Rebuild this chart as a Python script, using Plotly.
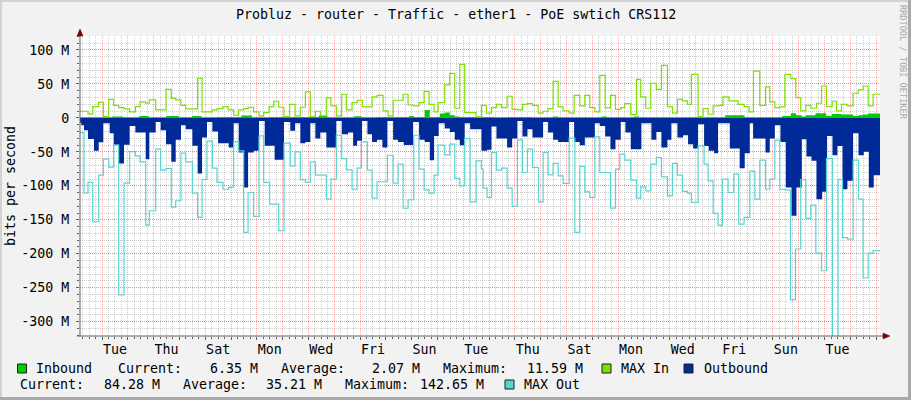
import pandas as pd
import plotly.graph_objects as go

# ---------------- data ----------------
START = pd.Timestamp("2019-09-30 03:32")
SPAN_HOURS = 744  # 31 days shown

in_hours = [0, 10, 30, 40, 55, 64, 80, 92, 104, 113, 128, 150, 160, 176, 200, 222, 230, 250, 255, 262,
            275, 300, 306, 310.4, 320.6, 325.3, 334.6, 339.2, 343.9, 348.5, 353, 375, 385, 398, 420, 440,
            445, 485, 490, 515, 520, 600, 618, 653, 661, 666, 671, 675, 684, 694, 699, 708, 719, 724, 728, 733]
in_vals = [1.0, 0.8, 2.0, 1.0, 2.9, 1.0, 2.9, 1.0, 2.9, 1.0, 1.2, 3.5, 1.0, 1.5, 1.2, 3.0, 1.0, 1.0, 2.5, 1.0,
           1.5, 1.2, 2.9, 1.2, 11.6, 1.5, 6.4, 7.8, 3.9, 2.0, 1.2, 1.5, 1.0, 1.5, 1.0, 2.0,
           1.0, 2.0, 1.0, 2.0, 1.0, 3.9, 1.0, 2.9, 6.9, 3.9, 2.0, 3.9, 6.9, 2.9, 5.9, 4.9, 2.9, 3.9, 4.9, 6.35]

maxin_hours = [0, 7.4, 11.8, 17.4, 21.7, 26.7, 31.3, 36.0, 40.9, 46.2, 51.5, 55.8, 61.1, 64.5, 70.4, 80.0,
               84.9, 89.0, 93.9, 98.3, 109.4, 113.5, 123.1,
               127.4, 133.0, 137.7, 142.9, 147.6, 152.2, 156.3, 161.5, 166.5, 170.8, 175.8, 180.1, 184.8,
               189.7, 195.0, 200.0, 204.9, 209.6, 214.2, 218.9, 223.5, 229.1, 233.4, 238.4, 243.4, 247.7,
               253.0, 257.7, 262.6, 271.6, 276.3, 281.9, 286.5, 291.2, 300.5, 305.1, 310.4, 315.3, 320.0,
               324.6, 329.3, 333.0, 339.2, 343.9, 348.5, 353.2, 357.8, 368.3, 373.3,
               378.0, 382.7, 387.3, 392.0, 397.2, 401.9, 406.8, 411.5, 416.1, 420.8, 426.1, 430.7, 435.3,
               440.0, 444.7, 449.3, 454.9, 459.5, 464.8, 469.5, 474.1, 478.8, 483.4, 488.4, 493.3, 498.0,
               502.9, 506.6, 512.2, 517.5, 521.5, 526.1, 530.8, 536.0, 540.7, 546.3, 550.9, 555.6, 560.2,
               564.9, 568.6, 574.8, 579.5, 584.1, 588.8, 593.4, 598.0, 603.6, 612.0, 617.6, 622.2, 626.3,
               632.2, 637.5, 641.5, 646.2, 650.8, 655.5, 661.0, 665.7, 670.3, 675.0, 679.6, 684.9, 689.6,
               694.2, 699.5, 703.5, 708.2, 713.4, 719.0, 723.7, 728.3, 733.0, 737.6]
maxin_vals = [9.8, 5.9, 16.7, 23.0, 2.0, 27.4, 18.6, 15.2, 13.2, 8.8, 16.7, 23.5, 21.6, 26.5, 11.8, 42.1,
              28.9, 26.5, 18.6, 13.2, 58.3, 8.8, 11.8,
              13.7, 16.7, 11.8, 3.9, 11.8, 13.7, 15.7, 8.8, 2.9, 7.8, 16.7, 24.5, 15.7,
              2.0, 20.0, 2.9, 15.7, 38.2, 2.0, 9.8, 2.9, 29.4, 17.6, 2.9, 34.8, 11.8,
              22.5, 26.0, 16.2, 30.9, 33.3, 10.3, 2.9, 26.0, 34.8, 19.0, 17.6, 22.5, 39.2,
              20.0, 8.8, 22.5, 48.5, 65.7, 14.2, 78.9, 7.8, 1.5, 18.6,
              6.9, 15.2, 20.0, 15.2, 31.9, 12.7, 11.8, 20.0, 21.0, 18.6, 6.9, 9.8, 13.7,
              53.9, 16.2, 10.3, 6.9, 33.3, 17.6, 33.3, 15.2, 8.8, 62.7, 14.7, 33.3, 12.7,
              15.2, 21.0, 4.9, 56.8, 30.9, 14.2, 51.0, 42.1, 77.4, 16.7, 6.9, 27.4, 25.0,
              20.0, 64.2, 2.0, 13.7, 5.4, 17.6, 18.6, 30.9, 25.0, 20.0, 16.7, 8.8, 69.0,
              18.6, 45.6, 23.5, 15.2, 16.2, 64.2, 57.8, 29.9, 10.3, 18.6, 14.2, 21.6, 47.0,
              16.7, 24.5, 10.3, 20.0, 17.6, 36.3, 41.2, 47.0, 17.6, 34.8]

out_hours = [0, 1.2, 3.7, 7.4, 13.0, 17.4, 21.7, 27.6, 31.3, 36.0, 40.9, 46.2, 51.5, 61.1, 64.5, 70.4,
             75.0, 80.0, 84.9, 89.0, 93.9, 98.3, 104.5, 109.4, 113.5, 118.1, 123.1,
             128.4, 138.3, 142.9, 147.6, 152.2, 156.3, 161.5, 166.5, 171.8, 181.0, 189.7, 195.6, 200.0,
             204.9, 209.6, 214.2, 218.9, 223.5, 229.1, 238.4, 243.4,
             249.3, 254.0, 257.7, 262.3, 267.3, 271.6, 276.3, 281.2, 285.9, 291.2, 295.8, 301.1, 309.8,
             315.3, 320.6, 325.3, 329.3, 333.6, 339.2, 343.9, 348.5, 353.2, 357.8, 362.8, 373.3,
             378.6, 382.7, 387.3, 397.2, 401.9, 406.8, 411.5, 416.1, 420.8, 430.7, 435.3, 440.0, 444.7,
             454.9, 459.5, 464.8, 469.5, 478.8, 483.4, 488.4, 493.3, 498.0,
             502.9, 507.2, 512.2, 522.1, 531.4, 536.0, 540.7, 546.3, 550.0, 555.6, 560.9, 565.5, 570.2,
             574.8, 580.4, 584.7, 589.7, 593.4, 604.3, 613.5, 618.2, 622.9,
             626.0, 637.5, 641.5, 646.2, 651.4, 656.4, 661.7, 666.3, 671.3, 675.6, 680.3, 684.9, 690.2,
             694.8, 699.8, 704.4, 709.1, 713.7, 719.0, 724.0, 728.9, 733.6, 738.2]
out_vals = [-7.0, -10.8, -18.0, -31.0, -48.5, -36.0, -8.0, -22.5, -39.7, -67.0, -39.7, -11.8, -21.6, -60.8, -21.6, -5.9,
            -18.0, -38.7, -64.7, -32.3, -10.8, -16.7, -41.0, -81.8, -29.0, -5.9, -20.0,
            -37.2, -43.6, -7.8, -51.0, -102.4, -51.0, -48.5, -4.4, -41.0, -61.7, -5.9, -19.0, -7.8,
            -37.2, -35.3, -7.8, -30.4, -21.6, -43.6, -4.4, -24.0,
            -21.6, -41.0, -33.8, -4.4, -24.0, -35.3, -32.3, -43.6, -4.4, -32.3, -35.3, -40.0, -5.9,
            -32.3, -35.3, -62.2, -26.5, -7.8, -15.7, -20.6, -32.3, -40.2, -7.8, -16.7, -48.5,
            -47.0, -12.7, -30.4, -43.6, -30.4, -4.4, -27.4, -16.7, -29.0, -5.9, -21.6, -32.3, -35.3,
            -5.9, -35.3, -40.2, -29.0, -7.8, -11.8, -27.4, -46.0, -32.3,
            -5.9, -21.6, -46.0, -7.8, -32.3, -20.6, -43.6, -32.3, -7.8, -29.0, -25.5, -38.7, -45.0,
            -9.3, -41.2, -48.5, -52.0, -7.8, -45.0, -74.0, -51.9, -7.8,
            -30.4, -51.0, -30.4, -10.8, -35.3, -102.4, -144.0, -102.4, -31.4, -56.8, -63.2, -119.6, -108.8,
            -26.5, -55.0, -41.2, -105.0, -92.6, -22.5, -55.0, -50.0, -102.4, -84.3]

maxout_hours = [0, 3.7, 7.4, 11.8, 17.4, 21.7, 26.7, 31.3, 36.0, 40.9, 46.2, 51.5, 55.8, 61.1, 64.5, 70.4,
                75.0, 80.0, 84.9, 89.0, 93.9, 98.3, 104.5, 109.4, 113.5, 118.1, 123.1,
                127.4, 133.0, 138.3, 142.9, 147.6, 152.2, 156.3, 161.5, 166.5, 170.8, 176.4, 184.8, 189.7,
                195.6, 200.0, 204.9, 209.6, 214.2, 218.9, 229.1, 233.4, 238.4, 243.4, 247.7,
                253.0, 257.7, 261.7, 267.3, 271.6, 276.3, 285.9, 291.2, 295.8, 300.5, 305.1, 310.4, 315.3,
                320.0, 324.6, 329.3, 333.0, 339.2, 343.9, 348.5, 353.2, 357.8, 362.8, 368.3, 373.3,
                374.9, 378.6, 382.7, 387.3, 392.0, 397.2, 401.9, 406.8, 411.5, 416.1, 420.8, 426.4, 430.7,
                435.3, 440.0, 444.7, 449.3, 454.9, 460.2, 464.8, 469.5, 474.1, 478.8, 483.4, 493.3, 498.0,
                502.0, 506.6, 512.2, 517.5, 521.5, 526.1, 530.8, 536.0, 540.7, 546.3, 550.9, 555.6, 560.2,
                564.9, 568.6, 574.8, 580.4, 584.1, 588.8, 593.4, 597.4, 602.7, 608.0, 612.6, 617.6, 622.9,
                627.6, 632.2, 637.5, 641.5, 646.2, 650.8, 655.5, 660.7, 665.4, 670.3, 675.0, 679.6, 684.3,
                689.6, 694.2, 699.8, 705.0, 709.1, 713.7, 719.0, 724.0, 728.3, 733.0, 737.6]
maxout_vals = [-21.6, -110.7, -95.0, -152.9, -84.3, -60.8, -72.5, -40.2, -260.7, -96.0, -49.5, -55.9, -64.7, -157.8, -136.7, -46.0,
               -77.0, -74.5, -131.3, -122.0, -51.9, -64.7, -110.7, -146.5, -90.7, -34.3, -74.0,
               -95.0, -105.0, -102.4, -35.3, -48.5, -168.6, -109.8, -145.0, -26.5, -95.0, -127.0, -166.0, -37.2,
               -70.6, -50.0, -91.0, -95.0, -64.7, -84.3, -119.6, -90.0, -25.5, -59.8, -76.4,
               -105.0, -74.0, -35.3, -77.0, -118.0, -94.0, -55.0, -96.0, -68.0, -133.0, -120.5, -25.5, -75.5,
               -106.0, -110.7, -84.3, -40.0, -54.4, -38.7, -89.0, -100.0, -30.4, -123.5, -63.2, -75.5,
               -103.4, -117.0, -51.0, -77.0, -74.0, -103.4, -130.3, -32.3, -80.4, -46.0, -73.0, -123.5, -51.0,
               -83.8, -67.0, -85.3, -96.5, -29.9, -168.6, -71.5, -108.8, -117.0, -27.9, -80.4, -132.8, -75.5,
               -53.4, -62.2, -91.6, -118.0, -101.4, -107.3, -68.0, -58.3, -86.7, -114.7, -67.0, -84.3, -108.3,
               -110.7, -124.5, -41.2, -68.0, -92.6, -140.6, -157.8, -90.2, -109.8, -82.8, -156.3, -146.5, -78.4,
               -119.6, -62.2, -105.0, -90.2, -32.8, -105.0, -106.0, -267.5, -193.0, -91.0, -148.0, -128.4, -199.0,
               -225.0, -59.8, -340.0, -91.0, -176.4, -178.4, -62.2, -119.6, -235.7, -199.0, -195.5]

day_tick_times = ["2019-10-01 12:00", "2019-10-03 12:00", "2019-10-05 12:00", "2019-10-07 12:00",
                  "2019-10-09 12:00", "2019-10-11 12:00", "2019-10-13 12:00", "2019-10-15 12:00",
                  "2019-10-17 12:00", "2019-10-19 12:00", "2019-10-21 12:00", "2019-10-23 12:00",
                  "2019-10-25 12:00", "2019-10-27 12:00", "2019-10-29 12:00"]
day_tick_labels = ["Tue", "Thu", "Sat", "Mon", "Wed", "Fri", "Sun", "Tue", "Thu", "Sat", "Mon", "Wed",
                   "Fri", "Sun", "Tue"]

y_tick_vals = [-300, -250, -200, -150, -100, -50, 0, 50, 100]
y_tick_labels = ["-300 M", "-250 M", "-200 M", "-150 M", "-100 M", "-50 M", "0", "50 M", "100 M"]

title_text = "Probluz - router - Traffic - ether1 - PoE swtich CRS112"
stats_in = {"Current:": "6.35 M", "Average:": "2.07 M", "Maximum:": "11.59 M"}
stats_out = {"Current:": "84.28 M", "Average:": "35.21 M", "Maximum:": "142.65 M"}

for a, b in [(in_hours, in_vals), (maxin_hours, maxin_vals), (out_hours, out_vals), (maxout_hours, maxout_vals)]:
    assert len(a) == len(b), (len(a), len(b))

# ---------------- style ----------------
FONT = "DejaVu Sans Mono"
C_IN = "#00CC00"
C_MAXIN = "#7FE000"
C_OUT = "#002A97"
C_MAXOUT = "#55D6D3"
GRID_MINOR = "rgba(143,143,143,0.42)"
GRID_MAJOR = "rgba(222,48,48,0.38)"
AXIS_C = "#606060"
ARROW_C = "#7F0000"

W, H = 911, 400
PL, PT, PW, PH = 80, 36, 800, 300


def fx(px):
    return (px - PL) / PW


def fy(py):
    return (PT + PH - py) / PH


def to_time(hours):
    return [START + pd.Timedelta(hours=h) for h in hours]


def stepped(hours, vals):
    return to_time(list(hours) + [SPAN_HOURS]), list(vals) + [vals[-1]]


x_end = START + pd.Timedelta(hours=SPAN_HOURS)

fig = go.Figure()
x, y = stepped(in_hours, in_vals)
fig.add_trace(go.Scatter(x=x, y=y, mode="lines", line=dict(shape="hv", width=0, color=C_IN),
                         fill="tozeroy", fillcolor=C_IN, name="Inbound"))
x, y = stepped(maxin_hours, maxin_vals)
fig.add_trace(go.Scatter(x=x, y=y, mode="lines", line=dict(shape="hv", width=1.2, color=C_MAXIN),
                         name="MAX In"))
x, y = stepped(out_hours, out_vals)
fig.add_trace(go.Scatter(x=x, y=y, mode="lines", line=dict(shape="hv", width=0, color=C_OUT),
                         fill="tozeroy", fillcolor=C_OUT, name="Outbound"))
x, y = stepped(maxout_hours, maxout_vals)
fig.add_trace(go.Scatter(x=x, y=y, mode="lines", line=dict(shape="hv", width=1.2, color=C_MAXOUT),
                         name="MAX Out", xaxis="x2"))

shapes = []
# frame shading
shapes.append(dict(type="rect", xref="paper", yref="paper", x0=fx(908), x1=fx(911), y0=fy(400), y1=fy(0),
                   fillcolor="#A9A9A9", line=dict(width=0), layer="below"))
shapes.append(dict(type="rect", xref="paper", yref="paper", x0=fx(0), x1=fx(911), y0=fy(400), y1=fy(397),
                   fillcolor="#A9A9A9", line=dict(width=0), layer="below"))
shapes.append(dict(type="rect", xref="paper", yref="paper", x0=fx(0), x1=fx(2), y0=fy(397), y1=fy(0),
                   fillcolor="#D2D2D2", line=dict(width=0), layer="below"))
shapes.append(dict(type="rect", xref="paper", yref="paper", x0=fx(0), x1=fx(908), y0=fy(2), y1=fy(0),
                   fillcolor="#D2D2D2", line=dict(width=0), layer="below"))
# axis lines
shapes.append(dict(type="line", xref="paper", yref="paper", x0=fx(80), x1=fx(80), y0=fy(336), y1=fy(32),
                   line=dict(color=AXIS_C, width=1)))
shapes.append(dict(type="line", xref="paper", yref="paper", x0=fx(77), x1=fx(885), y0=fy(336), y1=fy(336),
                   line=dict(color=AXIS_C, width=1)))
# arrows
shapes.append(dict(type="path", xref="paper", yref="paper",
                   path=f"M {fx(77)},{fy(36)} L {fx(83)},{fy(36)} L {fx(80)},{fy(29)} Z",
                   fillcolor=ARROW_C, line=dict(color=ARROW_C, width=0.5)))
shapes.append(dict(type="path", xref="paper", yref="paper",
                   path=f"M {fx(883)},{fy(333)} L {fx(883)},{fy(339)} L {fx(890)},{fy(336)} Z",
                   fillcolor=ARROW_C, line=dict(color=ARROW_C, width=0.5)))


def box(px, py, color):
    shapes.append(dict(type="rect", xref="paper", yref="paper", x0=fx(px), x1=fx(px + 9),
                       y0=fy(py + 4.5), y1=fy(py - 4.5), fillcolor=color,
                       line=dict(color="#202020", width=1)))


ROW1, ROW2 = 368.5, 384.5
box(17.5, ROW1, C_IN)
box(602, ROW1, C_MAXIN)
box(684, ROW1, C_OUT)
box(505, ROW2, C_MAXOUT)

annotations = []


def text(px, py, s, anchor="left", size=13.3, color="#000000", angle=0):
    annotations.append(dict(xref="paper", yref="paper", x=fx(px), y=fy(py), text=s, showarrow=False,
                            xanchor=anchor, yanchor="middle", textangle=angle,
                            font=dict(family=FONT, size=size, color=color)))


text(455.5, 14, title_text, anchor="center")
text(10, 186, "bits per second", anchor="center", angle=-90)
text(903, 62, "RRDTOOL / TOBI OETIKER", anchor="center", size=8.6, color="#AAAAAA", angle=90)

text(33.5, ROW1, "Inbound")
keys = list(stats_in.keys())
for lx, rx, k in [(116, 260, keys[0]), (279, 422, keys[1]), (441, 585, keys[2])]:
    text(lx, ROW1, k)
    text(rx, ROW1, stats_in[k], anchor="right")
text(619, ROW1, "MAX In")
text(702, ROW1, "Outbound")
for lx, rx, k in [(17.5, 162, keys[0]), (181, 324, keys[1]), (343, 486, keys[2])]:
    text(lx, ROW2, k)
    text(rx, ROW2, stats_out[k], anchor="right")
text(522, ROW2, "MAX Out")

fig.update_layout(
    width=W, height=H,
    margin=dict(l=PL, r=W - PL - PW, t=PT, b=H - PT - PH, pad=0),
    paper_bgcolor="#F2F2F2", plot_bgcolor="#FFFFFF",
    showlegend=False,
    shapes=shapes, annotations=annotations,
    font=dict(family=FONT, size=13, color="#000000"),
    xaxis=dict(type="date", range=[START, x_end], tickmode="linear", tick0="2019-10-01",
               dtick=86400000, showticklabels=False, showgrid=True, gridcolor=GRID_MAJOR,
               griddash="1px,1px", gridwidth=1, zeroline=False, showline=False,
               ticks="outside", ticklen=3, tickcolor=AXIS_C,
               minor=dict(tickmode="linear", tick0="2019-10-01", dtick=21600000, showgrid=True,
                          gridcolor=GRID_MINOR, griddash="1px,1px", gridwidth=1,
                          ticks="outside", ticklen=2, tickcolor=AXIS_C)),
    xaxis2=dict(type="date", overlaying="x", anchor="y", side="bottom", range=[START, x_end],
                tickmode="array", tickvals=day_tick_times, ticktext=day_tick_labels,
                showgrid=False, zeroline=False, showline=False, ticks="",
                tickfont=dict(family=FONT, size=13.3, color="#000000"), ticklabelstandoff=4),
    yaxis=dict(range=[-321.1, 120.6], tickmode="array", tickvals=y_tick_vals, ticktext=y_tick_labels,
               showgrid=True, gridcolor=GRID_MAJOR, griddash="1px,1px", gridwidth=1,
               zeroline=False, showline=False, ticks="outside", ticklen=3, tickcolor=AXIS_C,
               tickfont=dict(family=FONT, size=13.3, color="#000000"), ticklabelstandoff=4,
               minor=dict(tickmode="linear", tick0=0, dtick=10, showgrid=True, gridcolor=GRID_MINOR,
                          griddash="1px,1px", gridwidth=1, ticks="outside", ticklen=2, tickcolor=AXIS_C)),
)

fig.write_html("out.html", config={"displayModeBar": False},
               post_script="document.body.style.margin='0';document.body.style.overflow='hidden';")
